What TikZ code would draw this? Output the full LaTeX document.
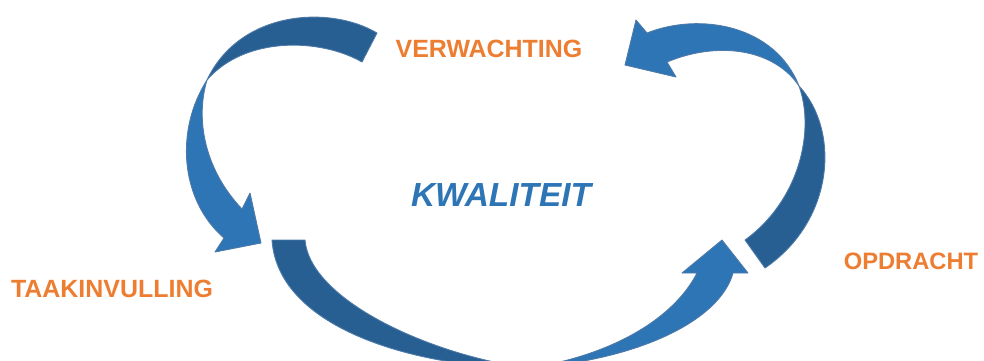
\documentclass[tikz,border=0pt]{standalone}
\usepackage{fontspec}
\setmainfont{Liberation Sans}
\definecolor{darkblue}{RGB}{39,95,146}
\definecolor{lightblue}{RGB}{46,117,182}
\definecolor{edgeblue}{RGB}{78,122,168}
\definecolor{orangetxt}{RGB}{237,125,49}
\begin{document}
\begin{tikzpicture}[x=0.02cm,y=-0.02cm,
  back/.style={fill=darkblue,draw=edgeblue,line width=0.5pt,line join=round},
  front/.style={fill=lightblue,draw=edgeblue,line width=0.5pt,line join=round},
  lbl/.style={text=orangetxt,font=\bfseries\fontsize{14.2}{16}\selectfont,inner sep=0pt},
  title/.style={text=lightblue,font=\bfseries\itshape\fontsize{19}{22}\selectfont,inner sep=0pt}]
\useasboundingbox (0,0) rectangle (984,360);
\clip (0,0) rectangle (984,360);
% left arrow (top-left, pointing down)
\draw[back] (377,33) .. controls (330,5) and (240,10) .. (207,80)
  .. controls (245,36) and (320,38) .. (362,62) -- cycle;
\draw[front] (207,80) .. controls (175,130) and (180,200) .. (224,238)
  -- (215,252) -- (261,243) -- (250,193) -- (242,209)
  .. controls (205,170) and (195,120) .. (207,80) -- cycle;
% right arrow (top-right, pointing left)
\draw[back] (799,86) .. controls (840,130) and (835,220) .. (765,268)
  -- (745,240) .. controls (800,200) and (815,130) .. (799,86) -- cycle;
\draw[front] (799,86) .. controls (775,25) and (700,12) .. (647,33)
  -- (636,20) -- (625,65) -- (676,77) -- (667,62)
  .. controls (720,40) and (775,50) .. (799,86) -- cycle;
% bottom arrow (pointing up-right)
\draw[back] (272,240) -- (305,240) .. controls (310,300) and (430,355) .. (528,368)
  .. controls (420,368) and (278,330) .. (272,240) -- cycle;
\draw[front] (528,368) .. controls (605,357) and (672,322) .. (697,273)
  -- (682,273) -- (722,240) -- (748,273) -- (733,273)
  .. controls (720,320) and (640,360) .. (528,368) -- cycle;
% labels
\node[lbl] (verw) at (489,49) {VERWACHTING};
\node[lbl] (taak) at (112,289) {TAAKINVULLING};
\node[lbl,font=\bfseries\fontsize{13.5}{16}\selectfont] (opdr) at (911,261) {OPDRACHT};
\node[title] (kwal) at (501,195) {KWALITEIT};
\end{tikzpicture}
\end{document}
